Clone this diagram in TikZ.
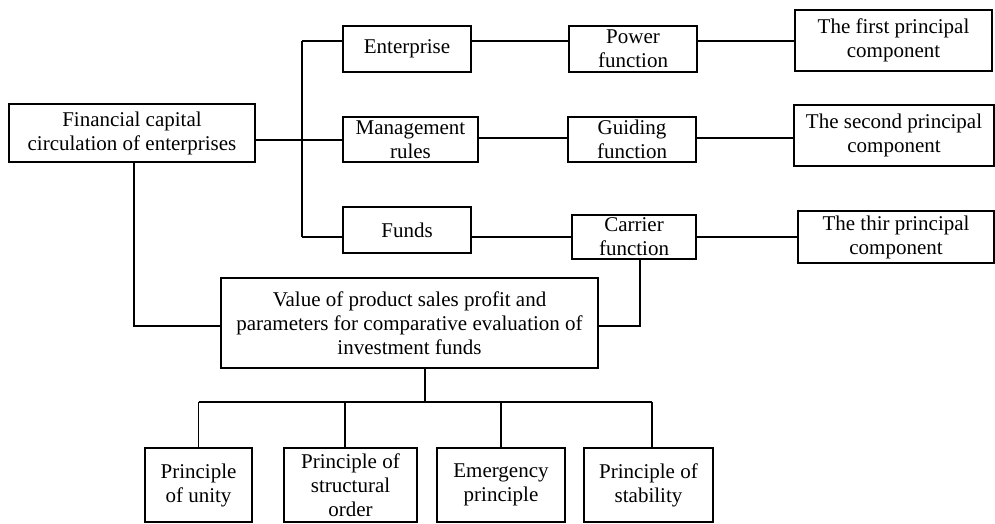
\documentclass[tikz,border=0pt]{standalone}
\usepackage{fontspec}
\setmainfont{Liberation Serif}
\begin{document}
\begin{tikzpicture}[x=1pt,y=1pt,
  box/.style={draw,line width=1.4pt,inner sep=0pt,align=center,
    font=\fontsize{21}{24}\selectfont},
  wire/.style={line width=1.4pt}]
\useasboundingbox (0,0) rectangle (995,-523);

% left root
\node[box,minimum width=246pt,minimum height=58pt] (fin) at (132,-133)
  {Financial capital\\circulation of enterprises};

% second column
\node[box,minimum width=128pt,minimum height=46pt] (ent) at (407,-49) {Enterprise};
\node[box,minimum width=135pt,minimum height=45pt] (mgmt) at (410.5,-139.5) {Management\\rules};
\node[box,minimum width=128pt,minimum height=46pt] (funds) at (407,-230) {Funds};

% functions
\node[box,minimum width=128pt,minimum height=46pt] (power) at (633,-49) {Power\\function};
\node[box,minimum width=128pt,minimum height=45pt] (guide) at (632,-139.5) {Guiding\\function};
\node[box,minimum width=124pt,minimum height=44pt] (carrier) at (634,-237) {Carrier\\function};

% principal components
\node[box,minimum width=197pt,minimum height=61pt] (first) at (893.5,-40.5) {The first principal\\component};
\node[box,minimum width=200pt,minimum height=61pt] (second) at (894,-135.5) {The second principal\\component};
\node[box,minimum width=196pt,minimum height=52pt] (third) at (896,-237) {The thir principal\\component};

% evaluation box
\node[box,minimum width=377pt,minimum height=90pt] (value) at (409.5,-323)
  {Value of product sales profit and\\parameters for comparative evaluation of\\investment funds};

% principles
\node[box,minimum width=107pt,minimum height=74pt] (u1) at (198.5,-485) {Principle\\of unity};
\node[box,minimum width=133pt,minimum height=74pt] (u2) at (350.5,-485) {Principle of\\structural\\order};
\node[box,minimum width=128pt,minimum height=74pt] (u3) at (501,-485) {Emergency\\principle};
\node[box,minimum width=129pt,minimum height=74pt] (u4) at (648.5,-485) {Principle of\\stability};

% junction points of the trunk
\coordinate (jE) at (302,-41);
\coordinate (jM) at (302,-140);
\coordinate (jF) at (302,-237);
\coordinate (yG) at (0,-138);
\coordinate (yV) at (0,-326);
\coordinate (bus) at (425,-402);

\draw[wire] (jE) -- (jF);
\draw[wire] (fin.east |- jM) -- (jM) -- (mgmt.west |- jM);
\draw[wire] (jE) -- (ent.west |- jE);
\draw[wire] (jF) -- (funds.west |- jF);

\draw[wire] (ent.east |- jE) -- (power.west |- jE);
\draw[wire] (power.east |- jE) -- (first.west |- jE);
\draw[wire] (mgmt.east |- yG) -- (guide.west |- yG);
\draw[wire] (guide.east |- yG) -- (second.west |- yG);
\draw[wire] (funds.east |- jF) -- (carrier.west |- jF);
\draw[wire] (carrier.east) -- (third.west |- carrier.east);

\draw[wire] ([xshift=2pt]fin.south) |- (value.west |- yV);
\draw[wire] ([xshift=6pt]carrier.south) |- (value.east |- yV);

\draw[wire] (value.south -| bus) -- (bus);
\draw[wire] (u1.north |- bus) -- ([xshift=3.5pt]u4.north |- bus);
\draw[wire] (u1.north |- bus) -- (u1.north);
\draw[wire] ([xshift=-5.5pt]u2.north |- bus) -- ([xshift=-5.5pt]u2.north);
\draw[wire] (u3.north |- bus) -- (u3.north);
\draw[wire] ([xshift=3.5pt]u4.north |- bus) -- ([xshift=3.5pt]u4.north);
\end{tikzpicture}
\end{document}
